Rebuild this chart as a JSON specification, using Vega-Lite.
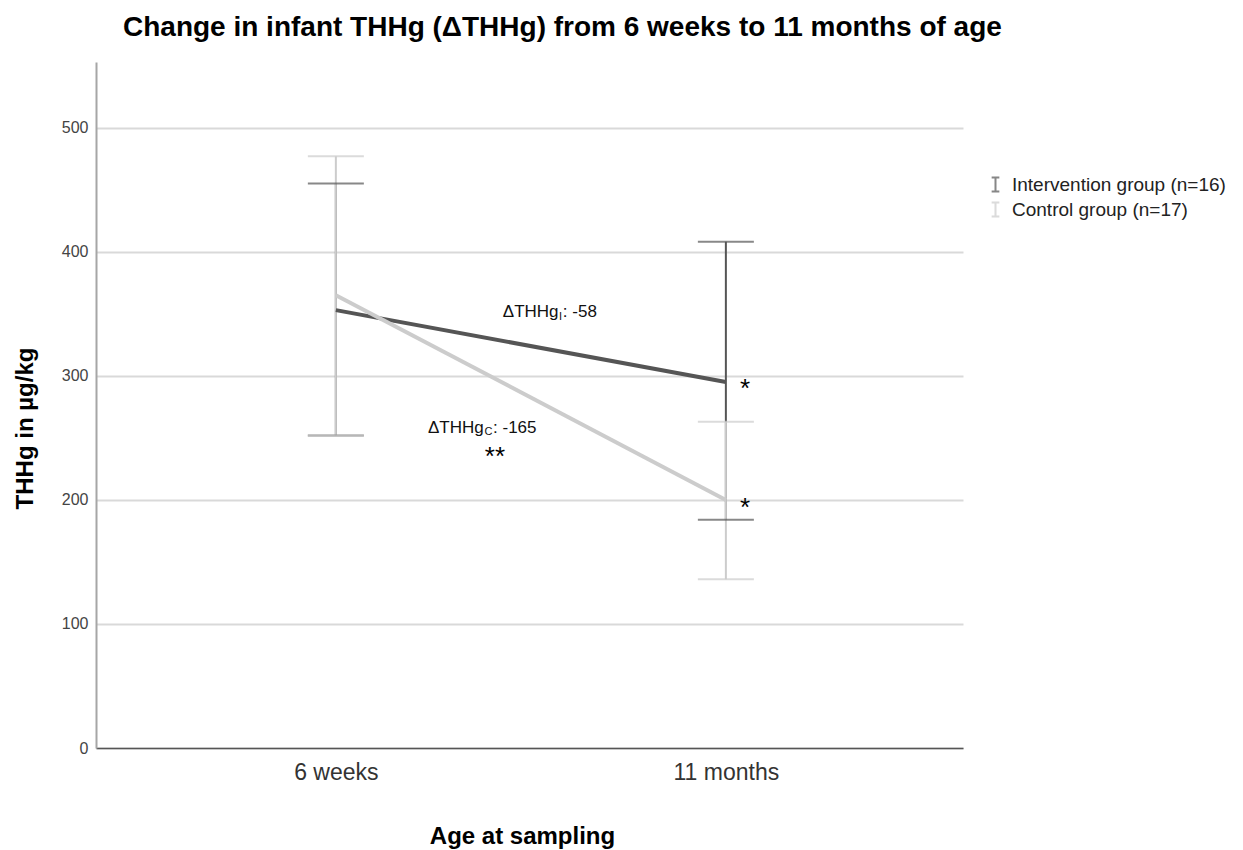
{
  "$schema": "https://vega.github.io/schema/vega-lite/v6.json",
  "width": 867,
  "height": 686,
  "autosize": "none",
  "padding": {"left": 96, "top": 62, "right": 280, "bottom": 102},
  "background": "white",
  "config": {"view": {"stroke": null}, "font": "Liberation Sans"},
  "title": {
    "text": "Change in infant THHg (ΔTHHg) from 6 weeks to 11 months of age",
    "anchor": "start",
    "frame": "group",
    "dx": 27,
    "dy": 31,
    "offset": 29,
    "baseline": "alphabetic",
    "fontSize": 28,
    "fontWeight": "bold",
    "color": "#000000"
  },
  "datasets": {
    "groups": [
      {"time": 0, "group": "Intervention group (n=16)", "mean": 353, "lo": 252, "hi": 455},
      {"time": 1, "group": "Intervention group (n=16)", "mean": 295, "lo": 184, "hi": 408},
      {"time": 0, "group": "Control group (n=17)", "mean": 365, "lo": 252, "hi": 477},
      {"time": 1, "group": "Control group (n=17)", "mean": 200, "lo": 136, "hi": 263}
    ],
    "notes": [
      {"kind": "label", "x": 0.428, "y": 351.6, "text": "ΔTHHg"},
      {"kind": "sub", "x": 0.572, "y": 347.5, "text": "I"},
      {"kind": "label", "x": 0.582, "y": 351.6, "text": ": -58"},
      {"kind": "label", "x": 0.236, "y": 258.1, "text": "ΔTHHg"},
      {"kind": "sub", "x": 0.381, "y": 254.5, "text": "C"},
      {"kind": "label", "x": 0.403, "y": 258.1, "text": ": -165"},
      {"kind": "sig", "x": 0.408, "y": 239.5, "text": "**"},
      {"kind": "sig", "x": 1.049, "y": 294.4, "text": "*"},
      {"kind": "sig", "x": 1.049, "y": 198.4, "text": "*"}
    ]
  },
  "layer": [
    {
      "data": {"name": "groups"},
      "mark": {"type": "rule", "strokeWidth": 2},
      "encoding": {
        "x": {
          "field": "time",
          "type": "quantitative",
          "scale": {"domain": [-0.615, 1.608], "nice": false, "zero": false},
          "axis": {
            "values": [0, 1],
            "labelExpr": "datum.value == 0 ? '6 weeks' : '11 months'",
            "grid": false,
            "ticks": false,
            "tickSize": 0,
            "domainColor": "#555555",
            "domainWidth": 1.5,
            "labelFontSize": 23,
            "labelColor": "#333333",
            "labelBaseline": "alphabetic",
            "labelPadding": 31,
            "labelFlush": false,
            "title": "Age at sampling",
            "titleFontSize": 24,
            "titleFontWeight": "bold",
            "titleColor": "#000000",
            "titleX": 426,
            "titleY": 95,
            "titleAlign": "center",
            "titleBaseline": "alphabetic"
          }
        },
        "y": {
          "field": "lo",
          "type": "quantitative",
          "scale": {"domain": [0, 553], "nice": false},
          "axis": {
            "values": [0, 100, 200, 300, 400, 500],
            "grid": true,
            "gridColor": "#d9d9d9",
            "gridWidth": 2,
            "domainColor": "#a6a6a6",
            "domainWidth": 2,
            "ticks": false,
            "tickSize": 0,
            "labelFontSize": 16,
            "labelColor": "#444444",
            "labelPadding": 8,
            "title": "THHg in µg/kg",
            "titleFontSize": 24,
            "titleFontWeight": "bold",
            "titleColor": "#000000",
            "titleAngle": -90,
            "titleX": -64,
            "titleY": 366,
            "titleAlign": "center",
            "titleBaseline": "alphabetic"
          }
        },
        "y2": {"field": "hi"},
        "color": {
          "field": "group",
          "type": "nominal",
          "scale": {
            "domain": ["Intervention group (n=16)", "Control group (n=17)"],
            "range": ["#555555", "#cccccc"]
          },
          "legend": {
            "orient": "none",
            "legendX": 890,
            "legendY": 113,
            "title": null,
            "padding": 0,
            "labelFontSize": 19,
            "labelLimit": 0,
            "labelColor": "#222222",
            "labelOffset": 7,
            "rowPadding": 2,
            "symbolType": "M-0.55,-1H0.55M0,-1V1M-0.55,1H0.55",
            "symbolSize": 196,
            "symbolStrokeWidth": 2,
            "symbolFillColor": "transparent"
          }
        }
      }
    },
    {
      "data": {"name": "groups"},
      "mark": {"type": "tick", "orient": "horizontal", "size": 56, "thickness": 2},
      "encoding": {
        "x": {"field": "time", "type": "quantitative"},
        "y": {"field": "lo", "type": "quantitative"},
        "color": {"field": "group", "type": "nominal"}
      }
    },
    {
      "data": {"name": "groups"},
      "mark": {"type": "tick", "orient": "horizontal", "size": 56, "thickness": 2},
      "encoding": {
        "x": {"field": "time", "type": "quantitative"},
        "y": {"field": "hi", "type": "quantitative"},
        "color": {"field": "group", "type": "nominal"}
      }
    },
    {
      "data": {"name": "groups"},
      "mark": {"type": "line", "strokeWidth": 4},
      "encoding": {
        "x": {"field": "time", "type": "quantitative"},
        "y": {"field": "mean", "type": "quantitative"},
        "color": {"field": "group", "type": "nominal"}
      }
    },
    {
      "data": {"name": "notes"},
      "transform": [{"filter": "datum.kind == 'label'"}],
      "mark": {"type": "text", "align": "left", "baseline": "middle", "fontSize": 17, "color": "#111111"},
      "encoding": {
        "x": {"field": "x", "type": "quantitative"},
        "y": {"field": "y", "type": "quantitative"},
        "text": {"field": "text"}
      }
    },
    {
      "data": {"name": "notes"},
      "transform": [{"filter": "datum.kind == 'sub'"}],
      "mark": {"type": "text", "align": "left", "baseline": "middle", "fontSize": 11, "color": "#111111"},
      "encoding": {
        "x": {"field": "x", "type": "quantitative"},
        "y": {"field": "y", "type": "quantitative"},
        "text": {"field": "text"}
      }
    },
    {
      "data": {"name": "notes"},
      "transform": [{"filter": "datum.kind == 'sig'"}],
      "mark": {"type": "text", "align": "center", "baseline": "middle", "fontSize": 26, "dy": 6, "color": "#000000"},
      "encoding": {
        "x": {"field": "x", "type": "quantitative"},
        "y": {"field": "y", "type": "quantitative"},
        "text": {"field": "text"}
      }
    }
  ]
}
